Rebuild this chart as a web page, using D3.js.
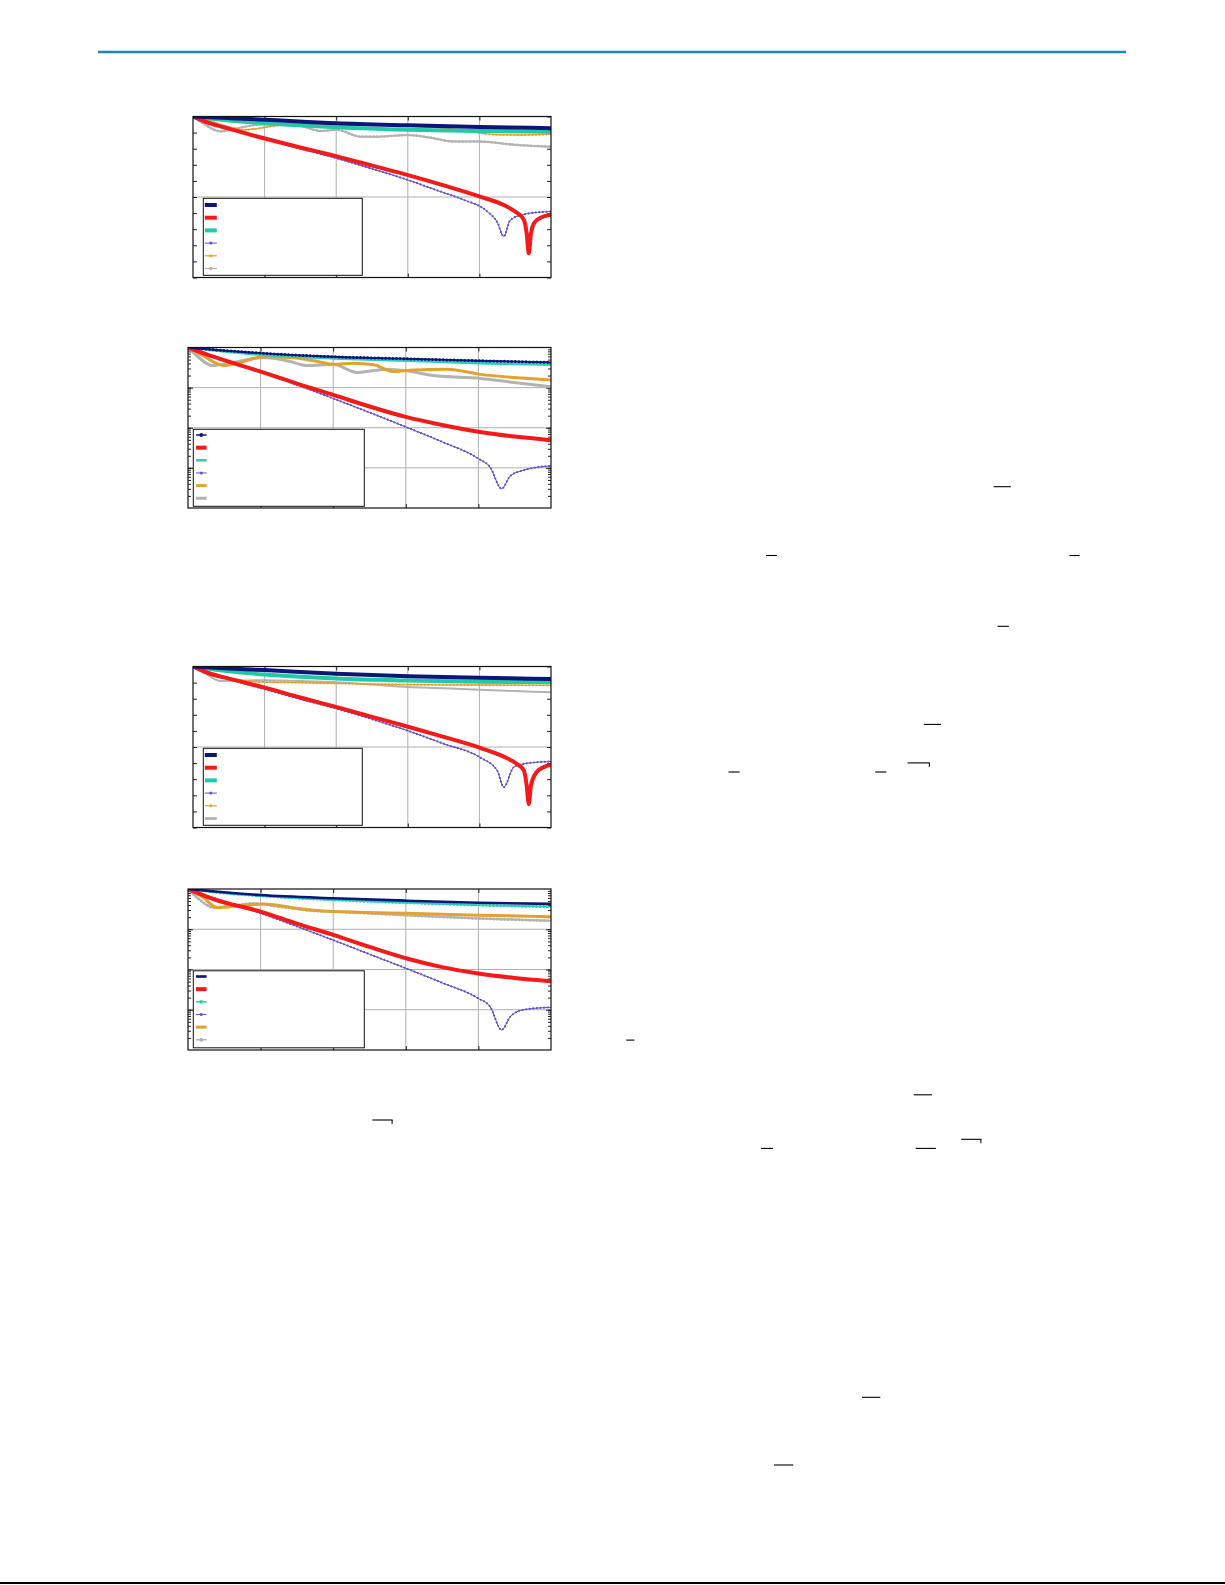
<!DOCTYPE html>
<html><head><meta charset="utf-8">
<script src="https://cdn.jsdelivr.net/npm/d3@7"></script>
<style>body{margin:0;background:#fff}svg{display:block}</style>
</head><body>
<svg id="page" width="1225" height="1585"></svg>
<script>
// ---------- shared axis values ----------
const xDomain = [0, 50];
const xGrid = [10, 20, 30, 40];
const dbDomain = [-40, 0];
const dbGrid = [-20];
const dbMinor = d3.range(-40, 0.1, 4);
const logDomain = [1e-4, 1];
const logGrid = [1e-3, 1e-2, 1e-1];

// ---------- chart 1 (linear dB) : [x, value] ----------
const c1Navy = [[0,0],[5,-0.4],[10,-0.8],[20,-1.7],[30,-2.2],[40,-2.6],[50,-2.9]];
const c1Red = [[0,0],[2.4,-1.7],[5,-3.0],[9.9,-5.4],[15,-7.7],[20.1,-9.9],[25,-12.2],[29.9,-14.5],[35,-17.1],[40.1,-19.9],[43.4,-22],[45.3,-24],[46.2,-25.6],[46.6,-29],[46.9,-34],[47.2,-29],[47.6,-26.6],[48.5,-25.2],[50,-24.4]];
const c1Teal = [[0,0],[5,-1.0],[10,-1.7],[20,-2.7],[30,-3.3],[40,-3.6],[50,-3.8]];
const c1Purple = [[0,0],[2.4,-1.6],[5,-3.0],[9.9,-5.5],[15,-8.0],[20.1,-10.4],[25,-13],[29.9,-15.7],[34,-18.3],[37.8,-20.7],[41.1,-23.6],[42.5,-26.3],[43.4,-29.8],[44.3,-25.8],[46.2,-24.3],[50,-23.6]];
const c1Orange = [[0,0],[3,-1.5],[5,-2.6],[7,-3.3],[9,-3.0],[11,-2.4],[13,-2.1],[17,-1.9],[20,-1.9],[25,-2.0],[30,-2.3],[35,-2.9],[39,-3.8],[42,-4.5],[46,-4.6],[50,-4.4]];
const c1Gray = [[0,0],[1.5,-1.8],[3.8,-3.7],[6,-3.0],[9.9,-1.9],[14.5,-2.1],[17.8,-3.6],[20,-3.3],[23.4,-5.0],[26,-5.0],[30,-4.6],[33,-5.2],[36.4,-6.2],[40,-6.2],[44.8,-7.0],[50,-7.5]];

// ---------- chart 2 (log, values as log10 exponents) ----------
const c2Navy = [[0,0],[10,-0.14],[20,-0.23],[30,-0.28],[40,-0.33],[50,-0.37]];
const c2Red = [[0,0],[3.5,-0.23],[10,-0.6],[15,-0.9],[20,-1.18],[25,-1.47],[30,-1.73],[35,-1.93],[40,-2.1],[45,-2.22],[50,-2.31]];
const c2Teal = [[0,0],[5,-0.1],[10,-0.18],[20,-0.27],[30,-0.33],[40,-0.39],[50,-0.43]];
const c2Purple = [[0,0],[3.5,-0.22],[10,-0.6],[15,-0.93],[20,-1.27],[25,-1.62],[30,-1.98],[35,-2.35],[40,-2.77],[41.6,-2.98],[43.2,-3.52],[44.4,-3.2],[46.2,-3.06],[50,-2.95]];
const c2Orange = [[0,0],[2,-0.2],[4.9,-0.45],[7,-0.38],[10.4,-0.23],[14.1,-0.25],[17.3,-0.33],[20,-0.42],[22.8,-0.39],[25.6,-0.43],[28.3,-0.6],[31.1,-0.56],[35.7,-0.54],[40.3,-0.67],[44.9,-0.75],[50,-0.81]];
const c2Gray = [[0,0],[1.5,-0.25],[3.3,-0.45],[6,-0.38],[10.4,-0.25],[14.1,-0.35],[16.4,-0.45],[20,-0.42],[23.3,-0.62],[27.4,-0.54],[30.1,-0.58],[33.8,-0.7],[40.3,-0.77],[44.9,-0.87],[50,-0.98]];

// ---------- chart 3 (linear dB) ----------
const c3Navy = [[0,0],[5,-0.5],[10,-0.9],[20,-1.8],[30,-2.4],[40,-2.8],[50,-3.1]];
const c3Red = [[0,0],[2.4,-1.8],[5,-3.0],[9.9,-5.2],[15,-7.7],[20.1,-10.1],[25,-12.5],[29.9,-14.9],[35,-17.5],[40.1,-20.2],[43.4,-22.4],[45.3,-24.3],[46.2,-25.8],[46.6,-29.5],[46.9,-34.2],[47.2,-29.5],[48,-26.2],[49,-25],[50,-24.4]];
const c3Teal = [[0,0],[5,-1.2],[10,-2.0],[20,-3.0],[30,-3.5],[40,-3.8],[50,-3.9]];
const c3Purple = [[0,0],[2.4,-1.6],[5,-3.1],[9.9,-5.6],[15,-8.1],[20.1,-10.5],[25,-13.1],[29.9,-15.9],[35,-19.2],[40.1,-22.6],[42.5,-25.9],[43.4,-30],[44.8,-25],[46.5,-24.1],[50,-23.6]];
const c3Orange = [[0,0],[3,-1.8],[6,-3.2],[9,-3.8],[15,-4.0],[20,-4.2],[30,-4.5],[40,-4.6],[50,-4.7]];
const c3Gray = [[0,0],[2,-2.0],[3.8,-3.6],[6,-3.5],[10,-3.4],[15,-3.6],[20,-3.9],[25,-4.5],[30,-5.1],[35,-5.4],[40,-5.8],[45,-6.1],[50,-6.4]];

// ---------- chart 4 (log, log10 exponents) ----------
const c4Navy = [[0,0],[10,-0.15],[20,-0.23],[30,-0.29],[40,-0.34],[50,-0.37]];
const c4Red = [[0,0],[3.5,-0.25],[10,-0.56],[15,-0.86],[20,-1.14],[25,-1.44],[30,-1.72],[35,-1.94],[40,-2.1],[45,-2.21],[50,-2.29]];
const c4Teal = [[0,0],[5,-0.1],[10,-0.17],[20,-0.27],[30,-0.34],[40,-0.40],[50,-0.44]];
const c4Purple = [[0,0],[3.5,-0.22],[10,-0.6],[15,-0.93],[20,-1.27],[25,-1.62],[30,-1.97],[35,-2.33],[40,-2.72],[41.6,-2.92],[43.2,-3.5],[44.4,-3.17],[46.2,-3.0],[50,-2.94]];
const c4Orange = [[0,0],[2,-0.2],[4,-0.46],[7,-0.42],[10.4,-0.37],[13,-0.42],[15,-0.48],[20,-0.56],[30,-0.6],[40,-0.65],[50,-0.69]];
const c4Gray = [[0,0],[1.5,-0.25],[3.5,-0.46],[6,-0.42],[9,-0.36],[12.7,-0.44],[17.3,-0.54],[20,-0.56],[30,-0.65],[40,-0.73],[50,-0.79]];

// ---------- styling ----------
const COL = {navy:"#0d1677", red:"#f41a1a", teal:"#22c9a6", teal2:"#2fcfb5", purple:"#6650c6", orange:"#e3a12f", gray:"#b3b3b3"};

const svg = d3.select("#page");

function drawChart(id, frame, kind, series) {
  const w = frame.w, h = frame.h;
  const g = svg.append("g").attr("transform", `translate(${frame.x},${frame.y})`);
  const x = d3.scaleLinear().domain(xDomain).range([0, w]);
  const y = kind === "log"
    ? d3.scaleLog().domain(logDomain).range([h, 0])
    : d3.scaleLinear().domain(dbDomain).range([h, 0]);
  const val = kind === "log" ? (v => Math.pow(10, v)) : (v => v);

  g.append("rect").attr("width", w).attr("height", h).attr("fill", "#fff");
  g.selectAll(".gx").data(xGrid).join("line")
    .attr("x1", d => x(d)).attr("x2", d => x(d)).attr("y1", 0).attr("y2", h)
    .attr("stroke", "#b0b0b0").attr("stroke-width", 1);
  g.selectAll(".gy").data(kind === "log" ? logGrid : dbGrid).join("line")
    .attr("y1", d => y(d)).attr("y2", d => y(d)).attr("x1", 0).attr("x2", w)
    .attr("stroke", "#b0b0b0").attr("stroke-width", 1);

  g.append("g").attr("transform", `translate(0,${h})`).call(d3.axisTop(x).tickValues(xGrid).tickSize(4).tickFormat(""));
  g.append("g").call(d3.axisBottom(x).tickValues(xGrid).tickSize(4).tickFormat(""));
  if (kind === "log") {
    const minor = y.ticks().filter(v => v > 1e-4 && v < 1);
    g.append("g").call(d3.axisRight(y).tickValues(minor).tickSize(3).tickFormat(""));
    g.append("g").attr("transform", `translate(${w},0)`).call(d3.axisLeft(y).tickValues(minor).tickSize(3).tickFormat(""));
    g.append("g").call(d3.axisRight(y).tickValues(logGrid).tickSize(5).tickFormat(""));
    g.append("g").attr("transform", `translate(${w},0)`).call(d3.axisLeft(y).tickValues(logGrid).tickSize(5).tickFormat(""));
  } else {
    g.append("g").call(d3.axisRight(y).tickValues(dbMinor).tickSize(4).tickFormat(""));
    g.append("g").attr("transform", `translate(${w},0)`).call(d3.axisLeft(y).tickValues(dbMinor).tickSize(4).tickFormat(""));
  }
  g.selectAll(".domain").remove();
  g.selectAll(".tick line").attr("stroke", "#222").attr("stroke-width", 1);

  svg.append("clipPath").attr("id", "clip" + id).append("rect").attr("width", w).attr("height", h);
  const plot = g.append("g").attr("clip-path", `url(#clip${id})`);

  const line = d3.line().x(d => x(d[0])).y(d => y(val(d[1]))).curve(d3.curveMonotoneX);
  series.slice().reverse().forEach(s => {
    const d = line(s.data);
    plot.append("path").attr("d", d).attr("fill", "none")
      .attr("stroke", s.color).attr("stroke-width", s.width)
      .attr("stroke-linejoin", "round").attr("stroke-linecap", "round");
    if (s.marker) {
      // marker texture: round-capped zero-length dashes along the drawn line
      plot.append("path").attr("d", d).attr("fill", "none")
        .attr("stroke", s.color).attr("stroke-width", s.marker)
        .attr("stroke-linecap", "round").attr("stroke-dasharray", `0 ${s.gap || 4}`);
    }
  });

  g.append("rect").attr("width", w).attr("height", h).attr("fill", "none").attr("stroke", "#111").attr("stroke-width", 1.2);

  const L = frame.legend;
  const lg = g.append("g").attr("transform", `translate(${L.x},${L.y})`);
  lg.append("rect").attr("width", L.w).attr("height", L.h).attr("fill", "#fff").attr("stroke", "#111").attr("stroke-width", 1);
  series.forEach((s, i) => {
    const yy = L.row0 + i * L.dy;
    lg.append("line").attr("x1", L.sx).attr("x2", L.sx + L.sl).attr("y1", yy).attr("y2", yy)
      .attr("stroke", s.color).attr("stroke-width", s.legendWidth || s.width);
    if (s.marker) lg.append("circle").attr("cx", L.sx + L.sl / 2).attr("cy", yy).attr("r", s.marker / 2 + 0.4).attr("fill", s.color);
  });
}

const legA = {x: 10.3, y: 81.8, w: 159, h: 77, sx: 1.5, sl: 12, row0: 6.7, dy: 12.7};
const legB = {x: 5.3, y: 81.8, w: 171, h: 77, sx: 2.7, sl: 10.6, row0: 5.7, dy: 12.65};

drawChart(1, {x: 193, y: 116.5, w: 358, h: 161, legend: legA}, "lin", [
  {data: c1Navy, color: COL.navy, width: 4},
  {data: c1Red, color: COL.red, width: 4},
  {data: c1Teal, color: COL.teal, width: 4},
  {data: c1Purple, color: COL.purple, width: 1, marker: 2.2, gap: 3.6},
  {data: c1Orange, color: COL.orange, width: 1.3, marker: 2.2, gap: 3.6, legendWidth: 1.2},
  {data: c1Gray, color: COL.gray, width: 2, marker: 2.6, gap: 3.6, legendWidth: 1.2}
]);
drawChart(2, {x: 188, y: 347.5, w: 363, h: 160.5, legend: legB}, "log", [
  {data: c2Navy, color: COL.navy, width: 1.8, marker: 3.0, gap: 3.6, legendWidth: 1.5},
  {data: c2Red, color: COL.red, width: 4},
  {data: c2Teal, color: COL.teal2, width: 2.6},
  {data: c2Purple, color: COL.purple, width: 1, marker: 2.2, gap: 3.6},
  {data: c2Orange, color: COL.orange, width: 3},
  {data: c2Gray, color: COL.gray, width: 3}
]);
drawChart(3, {x: 193, y: 666.5, w: 358, h: 161, legend: legA}, "lin", [
  {data: c3Navy, color: COL.navy, width: 4},
  {data: c3Red, color: COL.red, width: 4},
  {data: c3Teal, color: COL.teal, width: 4},
  {data: c3Purple, color: COL.purple, width: 1, marker: 2.2, gap: 3.6},
  {data: c3Orange, color: COL.orange, width: 1.3, marker: 2.2, gap: 3.6, legendWidth: 1.2},
  {data: c3Gray, color: COL.gray, width: 2, legendWidth: 2.8}
]);
drawChart(4, {x: 188, y: 889, w: 363, h: 161, legend: legB}, "log", [
  {data: c4Navy, color: COL.navy, width: 2.6},
  {data: c4Red, color: COL.red, width: 4},
  {data: c4Teal, color: COL.teal2, width: 1.8, marker: 3, gap: 3.6, legendWidth: 1.5},
  {data: c4Purple, color: COL.purple, width: 1, marker: 2.2, gap: 3.6},
  {data: c4Orange, color: COL.orange, width: 3},
  {data: c4Gray, color: COL.gray, width: 2, marker: 3, gap: 3.6, legendWidth: 1.5}
]);

// ---------- page furniture: header rule, footer rule, stray overbars ----------
svg.append("line").attr("x1", 98).attr("x2", 1126).attr("y1", 52).attr("y2", 52).attr("stroke", "#1a88b3").attr("stroke-width", 2.4);
svg.append("line").attr("x1", 0).attr("x2", 1225).attr("y1", 1583).attr("y2", 1583).attr("stroke", "#000").attr("stroke-width", 2);
const overbars = [
  [993.6, 1010.8, 486.7, 0], [766, 777, 555.5, 0], [1069.5, 1079.6, 555.5, 0], [997.6, 1008.8, 626.3, 0],
  [923.8, 941, 724.4, 0], [728.5, 739.6, 772, 0], [875.2, 886.3, 772, 0], [907.6, 929.8, 762.9, 1],
  [626.3, 634.4, 1040.1, 0], [913.7, 931.9, 1094.8, 0], [372.3, 392.6, 1120, 1],
  [760.9, 773, 1148.4, 0], [915.7, 935.9, 1148.4, 0], [961.2, 981.4, 1139.3, 1],
  [862, 880.3, 1397.3, 0], [774, 793.3, 1465, 0]
];
overbars.forEach(([a, b, yy, hook]) => {
  svg.append("line").attr("x1", a).attr("x2", b).attr("y1", yy).attr("y2", yy).attr("stroke", "#000").attr("stroke-width", 1.1);
  if (hook) svg.append("line").attr("x1", b - 0.5).attr("x2", b - 0.5).attr("y1", yy).attr("y2", yy + 4).attr("stroke", "#000").attr("stroke-width", 1);
});
</script>
</body></html>
